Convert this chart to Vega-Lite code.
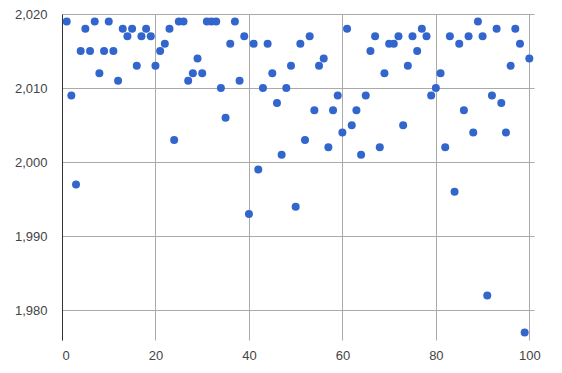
{
  "$schema": "https://vega.github.io/schema/vega-lite/v6.json",
  "width": 472,
  "height": 326,
  "autosize": "none",
  "padding": {"left": 62, "top": 14, "right": 28, "bottom": 33},
  "background": "white",
  "config": {"view": {"stroke": null}, "font": "Liberation Sans"},
  "data": {"values": [
    {"x":1,"y":2019},{"x":2,"y":2009},{"x":3,"y":1997},{"x":4,"y":2015},{"x":5,"y":2018},
    {"x":6,"y":2015},{"x":7,"y":2019},{"x":8,"y":2012},{"x":9,"y":2015},{"x":10,"y":2019},
    {"x":11,"y":2015},{"x":12,"y":2011},{"x":13,"y":2018},{"x":14,"y":2017},{"x":15,"y":2018},
    {"x":16,"y":2013},{"x":17,"y":2017},{"x":18,"y":2018},{"x":19,"y":2017},{"x":20,"y":2013},
    {"x":21,"y":2015},{"x":22,"y":2016},{"x":23,"y":2018},{"x":24,"y":2003},{"x":25,"y":2019},
    {"x":26,"y":2019},{"x":27,"y":2011},{"x":28,"y":2012},{"x":29,"y":2014},{"x":30,"y":2012},
    {"x":31,"y":2019},{"x":32,"y":2019},{"x":33,"y":2019},{"x":34,"y":2010},{"x":35,"y":2006},
    {"x":36,"y":2016},{"x":37,"y":2019},{"x":38,"y":2011},{"x":39,"y":2017},{"x":40,"y":1993},
    {"x":41,"y":2016},{"x":42,"y":1999},{"x":43,"y":2010},{"x":44,"y":2016},{"x":45,"y":2012},
    {"x":46,"y":2008},{"x":47,"y":2001},{"x":48,"y":2010},{"x":49,"y":2013},{"x":50,"y":1994},
    {"x":51,"y":2016},{"x":52,"y":2003},{"x":53,"y":2017},{"x":54,"y":2007},{"x":55,"y":2013},
    {"x":56,"y":2014},{"x":57,"y":2002},{"x":58,"y":2007},{"x":59,"y":2009},{"x":60,"y":2004},
    {"x":61,"y":2018},{"x":62,"y":2005},{"x":63,"y":2007},{"x":64,"y":2001},{"x":65,"y":2009},
    {"x":66,"y":2015},{"x":67,"y":2017},{"x":68,"y":2002},{"x":69,"y":2012},{"x":70,"y":2016},
    {"x":71,"y":2016},{"x":72,"y":2017},{"x":73,"y":2005},{"x":74,"y":2013},{"x":75,"y":2017},
    {"x":76,"y":2015},{"x":77,"y":2018},{"x":78,"y":2017},{"x":79,"y":2009},{"x":80,"y":2010},
    {"x":81,"y":2012},{"x":82,"y":2002},{"x":83,"y":2017},{"x":84,"y":1996},{"x":85,"y":2016},
    {"x":86,"y":2007},{"x":87,"y":2017},{"x":88,"y":2004},{"x":89,"y":2019},{"x":90,"y":2017},
    {"x":91,"y":1982},{"x":92,"y":2009},{"x":93,"y":2018},{"x":94,"y":2008},{"x":95,"y":2004},
    {"x":96,"y":2013},{"x":97,"y":2018},{"x":98,"y":2016},{"x":99,"y":1977},{"x":100,"y":2014}
  ]},
  "mark": {"type": "circle", "opacity": 1, "color": "#3366cc", "size": 64, "clip": false},
  "encoding": {
    "x": {
      "field": "x", "type": "quantitative",
      "scale": {"domain": [0, 101], "nice": false, "zero": false},
      "axis": {
        "title": null, "values": [0, 20, 40, 60, 80, 100], "domain": false, "ticks": false,
        "grid": true, "gridColor": "#aaaaaa", "gridWidth": 1,
        "labelFontSize": 13, "labelColor": "#444444", "labelPadding": 9, "labelFont": "Liberation Sans"
      }
    },
    "y": {
      "field": "y", "type": "quantitative",
      "scale": {"domain": [1976, 2020], "nice": false, "zero": false},
      "axis": {
        "title": null, "values": [1980, 1990, 2000, 2010, 2020], "format": ",d",
        "domain": true, "domainColor": "#333333", "domainWidth": 1, "ticks": false,
        "grid": true, "gridColor": "#aaaaaa", "gridWidth": 1,
        "labelFontSize": 13, "labelColor": "#444444", "labelPadding": 15, "labelFont": "Liberation Sans"
      }
    }
  }
}
